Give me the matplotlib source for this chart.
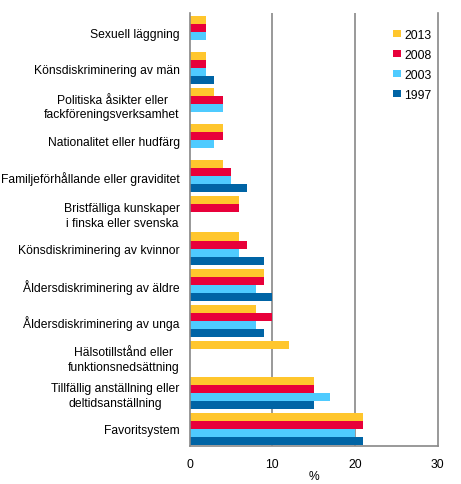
import matplotlib
matplotlib.use("Agg")
import matplotlib.pyplot as plt
import numpy as np

plt.rcParams['font.family'] = ['Liberation Sans', 'DejaVu Sans']

categories = [
    "Sexuell läggning",
    "Könsdiskriminering av män",
    "Politiska åsikter eller\nfackföreningsverksamhet",
    "Nationalitet eller hudfärg",
    "Familjeförhållande eller graviditet",
    "Bristfälliga kunskaper\ni finska eller svenska",
    "Könsdiskriminering av kvinnor",
    "Åldersdiskriminering av äldre",
    "Åldersdiskriminering av unga",
    "Hälsotillstånd eller\nfunktionsnedsättning",
    "Tillfällig anställning eller\ndeltidsanställning",
    "Favoritsystem",
]
years = ["2013", "2008", "2003", "1997"]
v2013 = [2, 2, 3, 4, 4, 6, 6, 9, 8, 12, 15, 21]
v2008 = [2, 2, 4, 4, 5, 6, 7, 9, 10, np.nan, 15, 21]
v2003 = [2, 2, 4, 3, 5, np.nan, 6, 8, 8, np.nan, 17, 20]
v1997 = [np.nan, 3, np.nan, np.nan, 7, np.nan, 9, 10, 9, np.nan, 15, 21]
xticks = [0, 10, 20, 30]

colors = ["#FFC62D", "#E8003A", "#4FCBFF", "#0064A5"]
series = [v2013, v2008, v2003, v1997]

fs = 8.7
fig = plt.figure(figsize=(4.61, 4.85), dpi=100)
ax = fig.add_axes([189.5 / 461, 1 - 447 / 485, (437.5 - 189.5) / 461, (447 - 14) / 485])

n = len(categories)
centers = np.arange(n)
h = 0.222
for i, (vals, c, y) in enumerate(zip(series, colors, years)):
    offs = (i - 1.5) * h
    ax.barh(centers + offs, vals, height=h, color=c, label=y, linewidth=0)

top = -0.527
ax.set_ylim(top + n, top)
ax.set_xlim(0, 30)
ax.set_xticks(xticks)
ax.set_xticklabels([str(t) for t in xticks], fontsize=fs)
ax.set_yticks(centers)
ax.set_yticklabels(categories, fontsize=fs, multialignment='center', linespacing=1.3)
ax.tick_params(axis='both', length=0)
ax.tick_params(axis='y', pad=7)
ax.tick_params(axis='x', pad=9)
ax.set_xlabel("%", fontsize=fs, labelpad=0)

for x in [10, 20]:
    ax.axvline(x, color="#888888", linewidth=1.2, zorder=0)

for s in ['left', 'bottom', 'right']:
    ax.spines[s].set_color("#888888")
    ax.spines[s].set_linewidth(1.2)
ax.spines['top'].set_visible(False)

leg = ax.legend(loc='upper right', bbox_to_anchor=(1.005, 0.98), frameon=False,
                fontsize=fs, handlelength=0.6, handleheight=0.6,
                handletextpad=0.3, labelspacing=0.66, borderaxespad=0.2)

fig.savefig("out.png", dpi=100)
